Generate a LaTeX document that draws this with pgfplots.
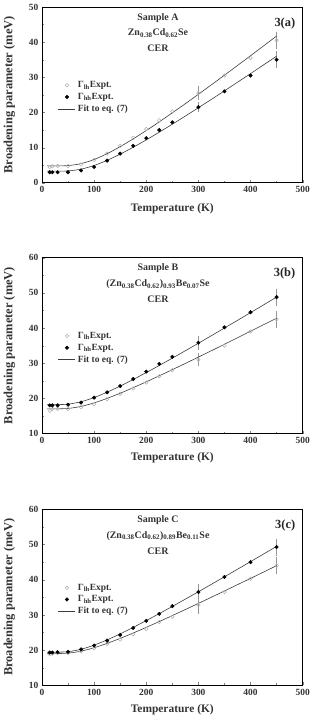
\documentclass[border=0pt]{standalone}
\usepackage{pgfplots}
\pgfplotsset{compat=1.18}
\usepackage{fontspec}
\setmainfont{Liberation Serif}
\definecolor{opengray}{RGB}{175,175,175}
\definecolor{errgray}{RGB}{150,150,150}
\definecolor{fitgray}{RGB}{60,60,60}
\tikzset{
  titl/.style={font=\fontsize{10}{16}\selectfont\bfseries, align=center, anchor=north, text=black!80},
  plab/.style={font=\fontsize{12.5}{14}\selectfont\bfseries, anchor=north east, text=black!85},
}
\pgfplotsset{
  myax/.style={
    scale only axis, width=261bp, height=176bp, anchor=south west,
    xmin=0, xmax=500, xtick={0,100,...,500},
    minor x tick num=1, minor y tick num=1,
    tick align=inside, xtick pos=bottom, ytick pos=left,
    major tick length=3pt, minor tick length=1.8pt,
    axis line style={line width=0.9pt},
    /pgf/number format/assume math mode=true,
    ticklabel style={font=\fontsize{9.5}{11}\selectfont\bfseries, color=black!80},
    xlabel style={font=\fontsize{11.5}{13}\selectfont\bfseries, color=black!80},
    ylabel style={font=\fontsize{12.5}{14}\selectfont\bfseries, color=black!80},
    xlabel={Temperature (K)},
    ylabel={Broadening parameter (meV)},
    ylabel style={at={(axis description cs:-0.125,0.5)},anchor=center},
    xlabel style={at={(axis description cs:0.5,-0.145)},anchor=center},
    legend style={at={(axis description cs:0.05,0.6)},anchor=north west,draw=none,fill=none,
      font=\fontsize{9.5}{11}\selectfont\bfseries, row sep=0pt, text=black!80},
    legend cell align=left,
    openm/.style={only marks, mark=o, mark size=1.8pt, opengray, mark options={line width=0.5pt}},
    filledm/.style={only marks, mark=*, mark size=1.8pt, black},
    fitl/.style={no marks, fitgray, line width=0.6pt, smooth},
    errb/.style={no marks, draw=none, forget plot, error bars/.cd, y dir=both, y explicit,
      error bar style={draw=errgray, line width=0.5pt}, error mark=-, error mark options={mark size=1.5pt, draw=errgray, line width=0.5pt}},
  }
}
\begin{document}
\begin{tikzpicture}
\path (0,0) rectangle (317bp,718bp);
% ---------------- Panel A ----------------
\begin{axis}[myax, at={(42bp,535bp)}, ymin=0, ymax=50, ytick={0,10,...,50}]
\addplot[errb] coordinates {(300,25.5) +- (0,1.5) (450,40.5) +- (0,2.0) (300,21.5) +- (0,1.0) (450,35.0) +- (0,2.0)};
\addplot[openm] coordinates {(15,4.5)(20,4.7)(30,4.8)(50,4.8)(75,5.2)(100,6.5)(125,8.3)(150,10.5)(175,12.8)(200,15.3)(225,17.8)(250,20.3)(300,25.5)(350,30.5)(400,35.5)(450,40.5)};
\addlegendentry{Γ\textsubscript{lh}Expt.}
\addplot[filledm] coordinates {(15,3.0)(20,3.0)(30,3.0)(50,3.0)(75,3.5)(100,4.5)(125,6.3)(150,8.3)(175,10.5)(200,12.7)(225,15.0)(250,17.2)(300,21.5)(350,26.0)(400,30.5)(450,35.0)};
\addlegendentry{Γ\textsubscript{hh}Expt.}
\addplot[fitl] coordinates {(10,4.8)(25,4.8)(50,4.89)(75,5.45)(100,6.63)(125,8.29)(150,10.28)(175,12.49)(200,14.85)(225,17.33)(250,19.89)(275,22.50)(300,25.17)(325,27.87)(350,30.60)(375,33.36)(400,36.13)(425,38.93)(450,41.73)};
\addlegendentry{Fit to eq. (7)}
\addplot[fitl, forget plot] coordinates {(10,3.3)(25,3.3)(50,3.38)(75,3.88)(100,4.92)(125,6.39)(150,8.15)(175,10.11)(200,12.20)(225,14.40)(250,16.66)(275,18.98)(300,21.34)(325,23.73)(350,26.15)(375,28.60)(400,31.05)(425,33.53)(450,36.01)};
\node[titl] at (axis description cs:0.445,0.985) {Sample A\\Zn\textsubscript{0.38}Cd\textsubscript{0.62}Se\\CER};
\node[plab] at (axis description cs:0.985,0.96) {3(a)};
\end{axis}
% ---------------- Panel B ----------------
\begin{axis}[myax, at={(42bp,284bp)}, ymin=10, ymax=60, ytick={10,20,...,60}, xlabel style={at={(axis description cs:0.5,-0.138)}}]
\addplot[errb] coordinates {(300,31.0) +- (0,1.5) (450,42.5) +- (0,2.0) (300,35.8) +- (0,1.5) (450,48.8) +- (0,2.0)};
\addplot[openm] coordinates {(15,16.5)(20,17.0)(30,17.0)(50,17.0)(75,17.5)(100,18.3)(125,19.8)(150,21.3)(175,22.8)(200,24.5)(225,26.3)(250,28.0)(300,31.0)(350,35.0)(400,39.0)(450,42.5)};
\addlegendentry{Γ\textsubscript{lh}Expt.}
\addplot[filledm] coordinates {(15,18.0)(20,18.0)(30,18.0)(50,18.2)(75,18.8)(100,20.2)(125,21.7)(150,23.5)(175,25.5)(200,27.6)(225,29.8)(250,31.8)(300,35.8)(350,40.2)(400,44.5)(450,48.8)};
\addlegendentry{Γ\textsubscript{hh}Expt.}
\addplot[fitl] coordinates {(10,18.2)(25,18.2)(50,18.35)(75,19.04)(100,20.23)(125,21.76)(150,23.49)(175,25.37)(200,27.33)(225,29.35)(250,31.43)(275,33.54)(300,35.67)(325,37.83)(350,40.00)(375,42.18)(400,44.38)(425,46.58)(450,48.80)};
\addlegendentry{Fit to eq. (7)}
\addplot[fitl, forget plot] coordinates {(10,17.0)(25,17.0)(50,17.13)(75,17.71)(100,18.71)(125,20.00)(150,21.46)(175,23.04)(200,24.70)(225,26.41)(250,28.16)(275,29.93)(300,31.73)(325,33.55)(350,35.38)(375,37.23)(400,39.08)(425,40.94)(450,42.80)};
\node[titl] at (axis description cs:0.445,0.985) {Sample B\\(Zn\textsubscript{0.38}Cd\textsubscript{0.62})\textsubscript{0.93}Be\textsubscript{0.07}Se\\CER};
\node[plab] at (axis description cs:0.985,0.96) {3(b)};
\end{axis}
% ---------------- Panel C ----------------
\begin{axis}[myax, at={(42bp,32bp)}, ymin=10, ymax=60, ytick={10,20,...,60}, xlabel style={at={(axis description cs:0.5,-0.138)}}]
\addplot[errb] coordinates {(300,32.8) +- (0,2.0) (450,44.0) +- (0,2.0) (300,36.5) +- (0,2.0) (450,49.3) +- (0,2.0)};
\addplot[openm] coordinates {(15,18.8)(20,19.0)(30,19.2)(50,19.2)(75,19.6)(100,20.5)(125,21.8)(150,23.0)(175,24.5)(200,26.0)(225,28.0)(250,29.5)(300,32.8)(350,36.5)(400,40.3)(450,44.0)};
\addlegendentry{Γ\textsubscript{lh}Expt.}
\addplot[filledm] coordinates {(15,19.3)(20,19.3)(30,19.4)(50,19.5)(75,20.2)(100,21.3)(125,22.7)(150,24.3)(175,26.3)(200,28.3)(225,30.3)(250,32.5)(300,36.5)(350,40.8)(400,45.0)(450,49.3)};
\addlegendentry{Γ\textsubscript{hh}Expt.}
\addplot[fitl] coordinates {(10,19.4)(25,19.4)(50,19.55)(75,20.23)(100,21.40)(125,22.90)(150,24.61)(175,26.45)(200,28.38)(225,30.37)(250,32.41)(275,34.49)(300,36.59)(325,38.71)(350,40.84)(375,42.99)(400,45.15)(425,47.32)(450,49.50)};
\addlegendentry{Fit to eq. (7)}
\addplot[fitl, forget plot] coordinates {(10,19.0)(25,19.0)(50,19.13)(75,19.69)(100,20.66)(125,21.91)(150,23.32)(175,24.85)(200,26.46)(225,28.11)(250,29.81)(275,31.53)(300,33.27)(325,35.03)(350,36.81)(375,38.60)(400,40.39)(425,42.19)(450,44.00)};
\node[titl] at (axis description cs:0.445,0.985) {Sample C\\(Zn\textsubscript{0.38}Cd\textsubscript{0.62})\textsubscript{0.89}Be\textsubscript{0.11}Se\\CER};
\node[plab] at (axis description cs:0.985,0.96) {3(c)};
\end{axis}
\end{tikzpicture}
\end{document}
